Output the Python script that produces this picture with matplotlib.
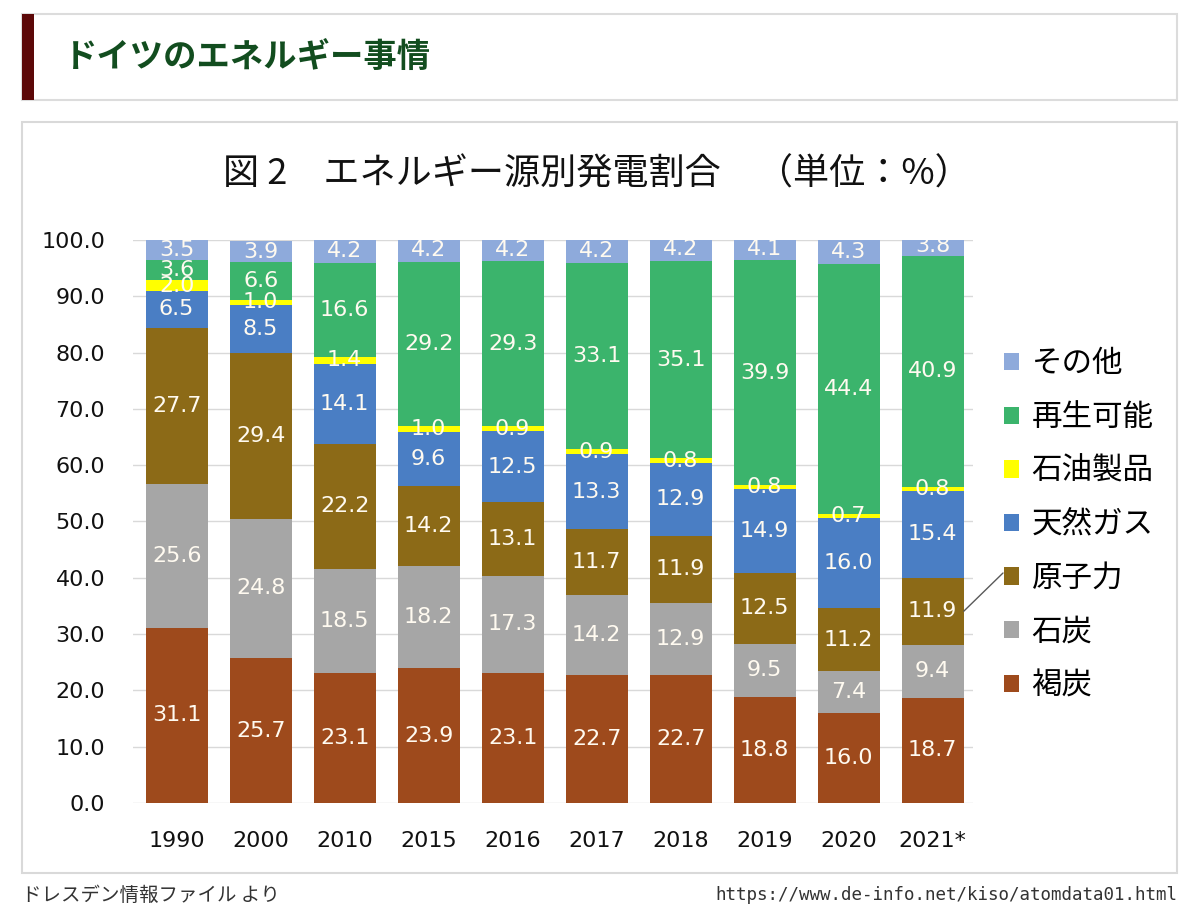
import matplotlib
matplotlib.use('Agg')
import matplotlib.pyplot as plt
from matplotlib.patches import Rectangle, Patch
import numpy as np

plt.rcParams['font.family'] = ['DejaVu Sans', 'Noto Sans CJK JP']

# データ（単位：%）
years = ['1990', '2000', '2010', '2015', '2016', '2017', '2018', '2019', '2020', '2021*']
sources = ['褐炭', '石炭', '原子力', '天然ガス', '石油製品', '再生可能', 'その他']
lignite = [31.1, 25.7, 23.1, 23.9, 23.1, 22.7, 22.7, 18.8, 16.0, 18.7]
coal = [25.6, 24.8, 18.5, 18.2, 17.3, 14.2, 12.9, 9.5, 7.4, 9.4]
nuclear = [27.7, 29.4, 22.2, 14.2, 13.1, 11.7, 11.9, 12.5, 11.2, 11.9]
gas = [6.5, 8.5, 14.1, 9.6, 12.5, 13.3, 12.9, 14.9, 16.0, 15.4]
oil = [2.0, 1.0, 1.4, 1.0, 0.9, 0.9, 0.8, 0.8, 0.7, 0.8]
renewable = [3.6, 6.6, 16.6, 29.2, 29.3, 33.1, 35.1, 39.9, 44.4, 40.9]
other = [3.5, 3.9, 4.2, 4.2, 4.2, 4.2, 4.2, 4.1, 4.3, 3.8]

series = [lignite, coal, nuclear, gas, oil, renewable, other]
colors = ['#9e4a1c', '#a6a6a6', '#8c6a17', '#4a7ec4', '#ffff00', '#3bb46c', '#8eaadb']

fig = plt.figure(figsize=(12, 9.24), dpi=100)

# ヘッダー
fig.patches.append(Rectangle((0.0183, 0.8918), 0.9625, 0.0931, transform=fig.transFigure,
                             facecolor='white', edgecolor='#dcdcdc', lw=1.5, zorder=-5))
fig.patches.append(Rectangle((0.0183, 0.8918), 0.01, 0.0931, transform=fig.transFigure,
                             facecolor='#5c0808', edgecolor='none', zorder=-4))
fig.text(0.0533, 0.9372, 'ドイツのエネルギー事情', fontsize=24, fontweight='bold',
         color='#124d1f', va='center', ha='left', family=['Noto Sans CJK JP'])

# グラフの枠
fig.patches.append(Rectangle((0.0183, 0.0552), 0.9625, 0.8128, transform=fig.transFigure,
                             facecolor='white', edgecolor='#d9d9d9', lw=1.5, zorder=-5))

ax = fig.add_axes([0.1108, 0.1310, 0.70, 0.6093])
ax.patch.set_alpha(0)
x = np.arange(len(years))
bottom = np.zeros(len(years))
for vals, c, name in zip(series, colors, sources):
    vals = np.array(vals)
    ax.bar(x + 0.02, vals, 0.74, bottom=bottom, color=c, label=name, zorder=2)
    for xi, b, v in zip(x, bottom, vals):
        ax.text(xi + 0.02, b + v / 2, f'{v:.1f}', ha='center', va='center', fontsize=16,
                color='#fffaf0', zorder=3, clip_on=True)
    bottom += vals

ax.set_xlim(-0.5, len(years) - 0.5)
ax.set_ylim(0, 100)
ax.set_yticks(np.arange(0, 101, 10))
ax.set_yticklabels([f'{v:.1f}' for v in np.arange(0, 101, 10)], fontsize=16)
ax.set_xticks(x + 0.02)
ax.set_xticklabels(years, fontsize=16)
ax.tick_params(length=0, labelcolor='#111111')
ax.tick_params(axis='y', pad=20)
ax.tick_params(axis='x', pad=20)
ax.grid(axis='y', color='#d9d9d9', lw=1, zorder=0)
for s in ax.spines.values():
    s.set_visible(False)

# 凡例
handles = [Patch(facecolor=c, edgecolor='none') for c in colors][::-1]
leg = fig.legend(handles, sources[::-1], loc='center left', bbox_to_anchor=(1004 / 1200, 0.432),
                 frameon=False, handlelength=0.5, handleheight=0.5,
                 handletextpad=0.4, labelspacing=0.74, borderpad=0, borderaxespad=0,
                 prop={'family': ['Noto Sans CJK JP'], 'size': 22})

# 原子力のラベルから凡例への線
ax.annotate('', xy=(x[-1] + 0.39, lignite[-1] + coal[-1] + nuclear[-1] / 2),
            xytext=(1003 / 1200, 1 - 573 / 924), textcoords='figure fraction',
            arrowprops=dict(arrowstyle='-', color='#595959', lw=1, shrinkA=0, shrinkB=0),
            annotation_clip=False)

fig.text(0.497, 0.8106, '図 2　エネルギー源別発電割合　（単位：%）', fontsize=26, ha='center',
         va='center', color='#111111', family=['Noto Sans CJK JP'])

# 出典
fig.text(0.0183, 0.0314, 'ドレスデン情報ファイル より', fontsize=14, ha='left', va='center',
         color='#333333', family=['Noto Sans CJK JP'])
fig.text(0.9808, 0.0314, 'https://www.de-info.net/kiso/atomdata01.html', fontsize=12.6,
         ha='right', va='center', color='#333333', family=['DejaVu Sans Mono'])

fig.savefig('out.png', dpi=100, facecolor='white')
